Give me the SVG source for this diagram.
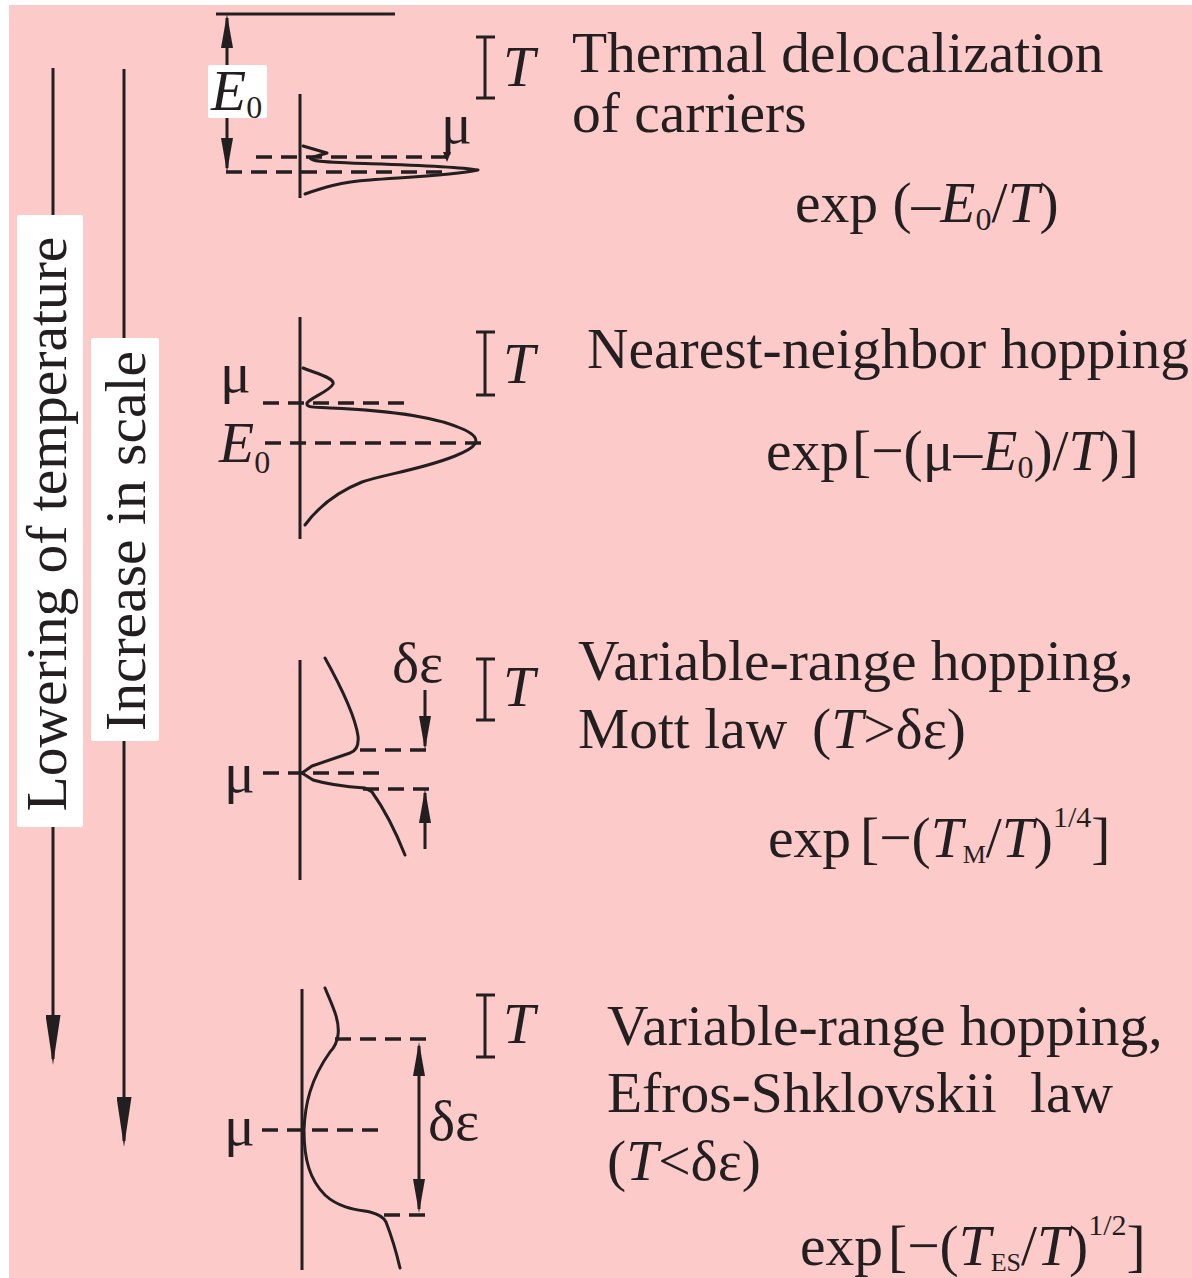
<svg xmlns="http://www.w3.org/2000/svg" width="1192" height="1278" viewBox="0 0 1192 1278">
<style>
.t{font-family:"Liberation Serif","Times New Roman",serif;font-size:57.5px;fill:#231f20}
.i{font-style:italic}
.ln{stroke:#231f20;stroke-width:3;fill:none}
.cv{stroke:#231f20;stroke-width:3;fill:none;stroke-linejoin:round;stroke-linecap:round}
.dash{stroke:#231f20;stroke-width:3.5;stroke-dasharray:16 9;fill:none}
.box{fill:#ffffff}
</style>
<defs>
<marker id="hs" markerUnits="userSpaceOnUse" markerWidth="34" markerHeight="12" refX="30" refY="6" orient="auto-start-reverse"><path d="M0,0 L34,6 L0,12 z" fill="#231f20"/></marker>
<marker id="hb" markerUnits="userSpaceOnUse" markerWidth="50" markerHeight="15" refX="44" refY="7.5" orient="auto"><path d="M0,0 L50,7.5 L0,15 z" fill="#231f20"/></marker>
</defs>
<rect x="0" y="0" width="1192" height="1278" fill="#ffffff"/>
<rect x="9" y="5" width="1183" height="1273" fill="#fdcaca"/>

<g id="connectors">
<line class="ln" x1="53" y1="68" x2="53" y2="1059" marker-end="url(#hb)"/>
<line class="ln" x1="124" y1="69" x2="124" y2="1141" marker-end="url(#hb)"/>
</g>

<g id="label-temperature">
<rect class="box" x="17" y="215" width="66" height="612" rx="2"/>
<text class="t" transform="translate(66,524) rotate(-90)" text-anchor="middle">Lowering of temperature</text>
</g>
<g id="label-scale">
<rect class="box" x="91" y="338" width="68" height="403" rx="2"/>
<text class="t" transform="translate(145,541) rotate(-90)" text-anchor="middle">Increase in scale</text>
</g>

<g id="panel-thermal">
<line class="ln" x1="216" y1="14" x2="395" y2="14"/>
<line class="ln" x1="227" y1="18" x2="227" y2="168" marker-start="url(#hs)" marker-end="url(#hs)"/>
<rect class="box" x="208" y="65" width="59" height="53" rx="2"/>
<text class="t" x="211" y="110"><tspan class="i">E</tspan><tspan font-size="32" dy="8">0</tspan></text>
<line class="ln" x1="300" y1="94" x2="300" y2="198"/>
<line class="dash" x1="256" y1="157" x2="450" y2="157"/>
<line class="dash" x1="226" y1="172" x2="445" y2="172"/>
<path class="cv" d="M303,146 L327,153 L310,158 C312,162 330,162 350,163 C410,165 455,166 478,170 C455,175 410,177 370,180 C340,182 322,188 305,194"/>
<polygon points="443,152 451,152 447,162" fill="#231f20"/>
<text class="t" x="441" y="143">μ</text>
<path class="ln" d="M476,37 H495 M485,37 V98 M476,98 H495"/>
<text class="t i" x="503" y="86">T</text>
<text class="t" x="572" y="72">Thermal delocalization</text>
<text class="t" x="572" y="132">of carriers</text>
<text class="t" x="795" y="222">exp (–<tspan class="i">E</tspan><tspan font-size="32" dy="8">0</tspan><tspan dy="-8">/</tspan><tspan class="i">T</tspan>)</text>
</g>

<g id="panel-nearest">
<line class="ln" x1="300" y1="317" x2="300" y2="539"/>
<line class="dash" x1="263" y1="403" x2="408" y2="403"/>
<line class="dash" x1="265" y1="443" x2="486" y2="443"/>
<path class="cv" d="M303,368 C318,374 335,378 333,384 C330,391 310,398 307,403 C306,408 314,407 330,408 C400,411 440,418 465,430 C485,440 475,448 455,456 C420,470 385,474 362,482 C332,494 316,510 305,525"/>
<text class="t" x="220" y="392">μ</text>
<text class="t" x="219" y="462"><tspan class="i">E</tspan><tspan font-size="32" dy="11">0</tspan></text>
<path class="ln" d="M476,332 H495 M485,332 V395 M476,395 H495"/>
<text class="t i" x="503" y="383">T</text>
<text class="t" x="587" y="368">Nearest-neighbor hopping</text>
<text class="t" y="470"><tspan x="766">exp</tspan><tspan x="852">[−(μ–</tspan><tspan class="i">E</tspan><tspan font-size="32" dy="8">0</tspan><tspan dy="-8">)/</tspan><tspan class="i">T</tspan>)]</text>
</g>

<g id="panel-mott">
<line class="ln" x1="300" y1="660" x2="300" y2="880"/>
<line class="dash" x1="263" y1="773" x2="381" y2="773"/>
<line class="dash" x1="360" y1="750" x2="428" y2="750"/>
<line class="dash" x1="363" y1="789" x2="430" y2="789"/>
<line class="ln" x1="425" y1="690" x2="425" y2="746" marker-end="url(#hs)"/>
<line class="ln" x1="425" y1="849" x2="425" y2="793" marker-end="url(#hs)"/>
<path class="cv" d="M325,658 C340,685 355,715 358,736 C359,746 356,751 350,753 L312,766 L302,773 L313,780 C330,785 350,787 365,788 L372,792 C385,810 397,835 405,855"/>
<text class="t" x="224" y="792">μ</text>
<text class="t" x="392" y="682">δε</text>
<path class="ln" d="M476,659 H495 M485,659 V720 M476,720 H495"/>
<text class="t i" x="503" y="706">T</text>
<text class="t" x="578" y="680">Variable-range hopping,</text>
<text class="t" y="748"><tspan x="578">Mott law</tspan><tspan x="812">(</tspan><tspan class="i">T</tspan>&gt;δε)</text>
<text class="t" y="857"><tspan x="768">exp</tspan><tspan x="860">[−(</tspan><tspan class="i">T</tspan><tspan font-size="26" dy="6">M</tspan><tspan dy="-6">/</tspan><tspan class="i">T</tspan>)<tspan font-size="30" dy="-30">1/4</tspan><tspan dy="30">]</tspan></text>
</g>

<g id="panel-es">
<line class="ln" x1="302" y1="989" x2="302" y2="1270"/>
<line class="dash" x1="262" y1="1130" x2="380" y2="1130"/>
<line class="dash" x1="335" y1="1039" x2="428" y2="1039"/>
<line class="dash" x1="384" y1="1215" x2="426" y2="1215"/>
<line class="ln" x1="419" y1="1046" x2="419" y2="1209" marker-start="url(#hs)" marker-end="url(#hs)"/>
<path class="cv" d="M325,988 C332,1005 340,1020 338,1035 C337,1042 335,1047 330,1052 C310,1080 305,1105 304,1130 C304,1160 310,1180 325,1195 C340,1209 360,1210 370,1212 C378,1214 384,1218 386,1222 C393,1240 397,1255 400,1268"/>
<text class="t" x="224" y="1145">μ</text>
<text class="t" x="428" y="1140">δε</text>
<path class="ln" d="M476,995 H495 M485,995 V1057 M476,1057 H495"/>
<text class="t i" x="503" y="1043">T</text>
<text class="t" x="607" y="1045">Variable-range hopping,</text>
<text class="t" y="1112"><tspan x="607">Efros-Shklovskii</tspan><tspan x="1030">law</tspan></text>
<text class="t" x="607" y="1180">(<tspan class="i">T</tspan>&lt;δε)</text>
<text class="t" y="1265"><tspan x="800">exp</tspan><tspan x="888">[−(</tspan><tspan class="i">T</tspan><tspan font-size="26" dy="6">ES</tspan><tspan dy="-6">/</tspan><tspan class="i">T</tspan>)<tspan font-size="30" dy="-30">1/2</tspan><tspan dy="30">]</tspan></text>
</g>
</svg>
